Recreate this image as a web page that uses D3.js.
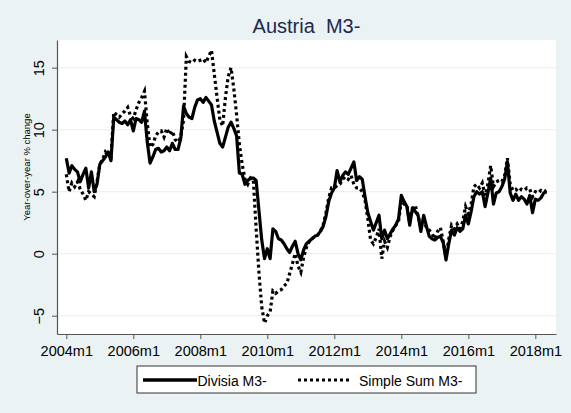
<!DOCTYPE html>
<html>
<head>
<meta charset="utf-8">
<script src="https://cdn.jsdelivr.net/npm/d3@7"></script>
<style>
  body { margin: 0; background: #eaf2f3; }
  text { font-family: "Liberation Sans", Arial, sans-serif; }
</style>
</head>
<body>
<script>
// months counted from 2004m1, monthly yoy % change, 2004m1 .. 2018m5
const startYear = 2004;

const divisia = [
  // 2004
  7.7, 6.5, 7.1, 6.8, 6.6, 5.8, 6.4, 6.9, 5.3, 6.6, 5.0, 5.6,
  // 2005
  7.2, 7.5, 7.8, 8.2, 7.5, 11.0, 10.8, 10.6, 10.5, 10.7, 10.4, 10.8,
  // 2006
  9.9, 10.9, 10.8, 10.6, 11.5, 9.0, 7.3, 7.8, 8.4, 8.5, 8.2, 8.3,
  // 2007
  8.6, 8.3, 8.9, 8.4, 8.4, 9.3, 11.9, 11.3, 11.0, 10.9, 11.8, 12.4,
  // 2008
  12.5, 12.2, 12.6, 12.3, 12.0, 10.7, 9.8, 8.9, 8.6, 9.4, 10.2, 10.6,
  // 2009
  10.1, 9.5, 6.5, 6.4, 5.6, 5.9, 6.1, 6.1, 5.9, 3.5, 1.1, -0.4,
  // 2010
  0.4, -0.4, 2.0, 1.8, 1.2, 1.1, 0.8, 0.4, 0.1, 0.6, 1.0, 0.0,
  // 2011
  -0.5, 0.3, 0.8, 1.0, 1.2, 1.4, 1.5, 1.8, 2.2, 3.0, 4.2, 4.9,
  // 2012
  5.3, 6.7, 5.8, 6.3, 6.6, 6.4, 6.9, 7.4, 5.9, 6.2, 6.0, 4.6,
  // 2013
  3.3, 2.6, 1.9, 2.5, 3.1, 1.2, 1.9, 1.2, 1.6, 2.0, 2.3, 2.8,
  // 2014
  4.7, 4.2, 3.8, 2.3, 3.7, 3.4, 3.1, 1.8, 3.1, 2.2, 1.4, 1.2,
  // 2015
  1.1, 1.3, 1.4, 0.9, -0.5, 0.8, 1.9, 1.5, 2.1, 1.8, 2.0, 3.1,
  // 2016
  2.4, 3.4, 4.6, 5.0, 4.8, 5.0, 3.8, 4.9, 6.1, 4.0, 4.9, 5.0,
  // 2017
  5.4, 6.0, 7.4, 4.9, 4.3, 4.8, 4.3, 4.6, 4.4, 4.0, 4.7, 3.3,
  // 2018
  4.4, 4.3, 4.5, 4.9, 5.0
];

const simpleSum = [
  // 2004
  6.4, 5.0, 5.7, 5.4, 5.8, 5.2, 4.8, 4.3, 5.0, 4.8, 4.6, 5.8,
  // 2005
  7.2, 7.6, 8.2, 7.9, 7.8, 11.4, 11.2, 11.0, 11.3, 11.5, 11.8, 11.1,
  // 2006
  10.9, 11.6, 12.2, 12.6, 13.1, 10.5, 8.6, 8.8, 9.5, 9.8, 9.9, 9.4,
  // 2007
  10.1, 9.6, 9.9, 9.2, 9.0, 9.4, 10.8, 15.9, 15.5, 15.4, 15.6, 15.5,
  // 2008
  15.6, 15.7, 15.4, 15.9, 16.4, 14.5, 12.6, 10.8, 10.3, 12.6, 14.3, 15.0,
  // 2009
  13.3, 11.2, 8.8, 7.2, 6.0, 5.6, 6.1, 5.9, 2.0, -1.5, -4.3, -5.6,
  // 2010
  -5.0, -4.7, -3.0, -3.2, -3.0, -2.9, -2.6, -2.4, -1.6, -0.8, 0.0, -1.0,
  // 2011
  -1.5, -0.3, 0.5, 1.0, 1.2, 1.4, 1.5, 1.8, 2.3, 3.3, 4.5, 5.3,
  // 2012
  5.3, 5.5, 5.6, 6.0, 6.2, 6.0, 6.3, 5.6, 5.3, 5.3, 5.0, 4.3,
  // 2013
  2.8, 1.1, 0.8, 1.3, 2.0, -0.4, 1.0, 0.5, 1.4, 1.9, 2.3, 2.6,
  // 2014
  4.3, 4.0, 3.9, 2.5, 3.6, 3.9, 3.0, 2.3, 2.7, 2.1, 1.9, 1.6,
  // 2015
  1.2, 1.8, 2.1, 1.0, -0.3, 1.2, 2.3, 2.0, 2.4, 2.0, 2.6, 3.8,
  // 2016
  3.2, 4.0, 5.4, 5.6, 5.3, 5.7, 4.7, 5.6, 7.1, 5.4, 5.8, 5.9,
  // 2017
  5.8, 6.3, 7.7, 5.6, 5.1, 5.2, 5.0, 5.2, 5.1, 5.3, 5.2, 4.6,
  // 2018
  5.0, 4.9, 5.1, 5.0, 5.1
];

const yTicks = [-5, 0, 5, 10, 15];
const xTickYears = [2004, 2006, 2008, 2010, 2012, 2014, 2016, 2018];

const width = 571, height = 413;
const margin = {top: 40, right: 15, bottom: 79, left: 57};

const x = d3.scaleLinear()
    .domain([-3.33, 175.4])
    .range([margin.left, width - margin.right]);

const y = d3.scaleLinear()
    .domain([-6.475, 17.23])
    .range([height - margin.bottom, margin.top]);

const svg = d3.select("body").append("svg")
    .attr("width", width)
    .attr("height", height);

svg.append("rect")
    .attr("width", width)
    .attr("height", height)
    .attr("fill", "#eaf2f3");

svg.append("rect")
    .attr("x", margin.left)
    .attr("y", margin.top)
    .attr("width", width - margin.right - margin.left)
    .attr("height", height - margin.bottom - margin.top)
    .attr("fill", "#ffffff");

// gridlines
svg.append("g")
  .selectAll("line")
  .data(yTicks)
  .join("line")
    .attr("x1", margin.left)
    .attr("x2", width - margin.right)
    .attr("y1", d => y(d))
    .attr("y2", d => y(d))
    .attr("stroke", "#eaf2f3")
    .attr("stroke-width", 1.2);

const line = d3.line()
    .x((d, i) => x(i))
    .y(d => y(d));

svg.append("path")
    .datum(simpleSum)
    .attr("fill", "none")
    .attr("stroke", "#000")
    .attr("stroke-width", 3.2)
    .attr("stroke-dasharray", "3,3")
    .attr("d", line);

svg.append("path")
    .datum(divisia)
    .attr("fill", "none")
    .attr("stroke", "#000")
    .attr("stroke-width", 3.2)
    .attr("stroke-linejoin", "round")
    .attr("d", line);

const yAxis = g => g
    .attr("transform", `translate(${margin.left},0)`)
    .call(d3.axisLeft(y).tickValues(yTicks).tickSize(5).tickSizeOuter(0))
    .call(g => g.select(".domain").attr("stroke", "#555").attr("stroke-width", 1.2))
    .call(g => g.selectAll(".tick line").attr("stroke", "#555"))
    .call(g => g.selectAll(".tick text")
        .attr("x", null).attr("dy", null)
        .attr("transform", "translate(-13,0) rotate(-90)")
        .attr("text-anchor", "middle")
        .attr("fill", "#000")
        .style("font-size", "14.5px"));

const xAxis = g => g
    .attr("transform", `translate(0,${height - margin.bottom})`)
    .call(d3.axisBottom(x)
        .tickValues(xTickYears.map(yr => (yr - startYear) * 12))
        .tickFormat(d => `${startYear + d / 12}m1`)
        .tickSize(5).tickSizeOuter(0))
    .call(g => g.select(".domain").attr("stroke", "#555").attr("stroke-width", 1.2))
    .call(g => g.selectAll(".tick line").attr("stroke", "#555"))
    .call(g => g.selectAll(".tick text")
        .attr("y", 22).attr("dy", null)
        .attr("fill", "#000")
        .style("font-size", "14.5px"));

svg.append("g").call(yAxis);
svg.append("g").call(xAxis);

svg.append("text")
    .attr("x", (margin.left + width - margin.right) / 2)
    .attr("y", 33)
    .attr("text-anchor", "middle")
    .attr("fill", "#1c2a50")
    .style("font-size", "20px")
    .style("white-space", "pre")
    .text("Austria  M3-");

svg.append("text")
    .attr("transform", "translate(30,167) rotate(-90)")
    .attr("text-anchor", "middle")
    .style("font-size", "9.5px")
    .text("Year-over-year % change");

// legend
const legend = svg.append("g");
legend.append("rect")
    .attr("x", 137)
    .attr("y", 366)
    .attr("width", 339)
    .attr("height", 27)
    .attr("fill", "#fff")
    .attr("stroke", "#333")
    .attr("stroke-width", 1);

legend.append("line")
    .attr("x1", 143).attr("x2", 197)
    .attr("y1", 380).attr("y2", 380)
    .attr("stroke", "#000").attr("stroke-width", 3.5);
legend.append("text")
    .attr("x", 197.5).attr("y", 386)
    .style("font-size", "14px")
    .text("Divisia M3-");

legend.append("line")
    .attr("x1", 298).attr("x2", 351)
    .attr("y1", 380).attr("y2", 380)
    .attr("stroke", "#000").attr("stroke-width", 3.2)
    .attr("stroke-dasharray", "3,3");
legend.append("text")
    .attr("x", 359).attr("y", 386)
    .style("font-size", "14px")
    .text("Simple Sum M3-");
</script>
</body>
</html>
